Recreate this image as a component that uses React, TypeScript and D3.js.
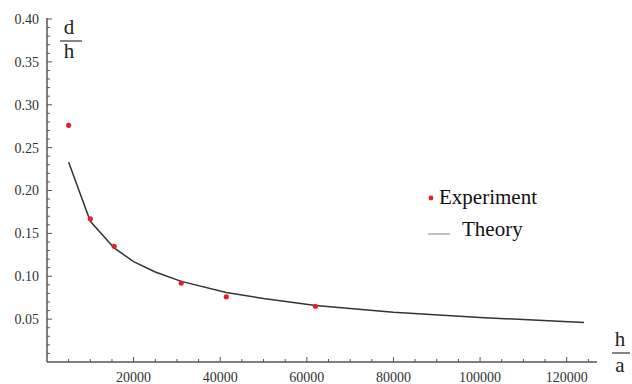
import React from 'react';
import * as d3 from 'd3';

// experiment points (h/a, d/h)
const expX = [5000, 10000, 15500, 31000, 41400, 62000];
const expY = [0.276, 0.167, 0.135, 0.092, 0.076, 0.065];

// theory curve samples
const thX = [5000, 10000, 15500, 20000, 25000, 31000, 41400, 50000, 62000, 80000, 100000, 124000];
const thY = [0.233, 0.164, 0.133, 0.117, 0.105, 0.094, 0.081, 0.074, 0.066, 0.058, 0.052, 0.046];

const xTickLabels = [20000, 40000, 60000, 80000, 100000, 120000];
const yTickLabels = [0.05, 0.1, 0.15, 0.2, 0.25, 0.3, 0.35, 0.4];

const W = 632;
const H = 384;
const font = '"Liberation Serif", "DejaVu Serif", serif';
const axisColor = '#555';

const App = () => {
  const x = d3.scaleLinear().domain([0, 127000]).range([47, 597]);
  const y = d3.scaleLinear().domain([0, 0.4]).range([362, 19]);

  const xMinor = d3.range(5000, 127000, 5000);
  const yMinor = d3.range(1, 41).map(i => i / 100);

  const line = d3.line<number>()
    .x((_, i) => x(thX[i]))
    .y(d => y(d));

  return (
    <svg width={W} height={H} style={{ position: 'absolute', left: 0, top: 0, background: '#fff' }}>
      {/* theory curve */}
      <path d={line(thY) || ''} fill="none" stroke="#333" strokeWidth={1.5} />

      {/* experiment points */}
      {expX.map((v, i) => (
        <circle key={i} cx={x(v)} cy={y(expY[i])} r={2.6} fill="#e3202b" />
      ))}

      {/* axes */}
      <line x1={x(0)} x2={x(0)} y1={y(0)} y2={y(0.4) - 1} stroke={axisColor} strokeWidth={1.5} />
      <line x1={x(0)} x2={x(127000)} y1={y(0)} y2={y(0)} stroke={axisColor} strokeWidth={1.5} />

      {yMinor.map(v => {
        const major = Math.round(v * 100) % 5 === 0;
        return (
          <line key={'ym' + v} x1={x(0)} x2={x(0) + (major ? 5 : 3)} y1={y(v)} y2={y(v)}
            stroke={axisColor} strokeWidth={1} />
        );
      })}
      {xMinor.map(v => {
        const major = v % 20000 === 0;
        return (
          <line key={'xm' + v} x1={x(v)} x2={x(v)} y1={y(0)} y2={y(0) - (major ? 5 : 3)}
            stroke={axisColor} strokeWidth={1} />
        );
      })}

      {yTickLabels.map(v => (
        <text key={'yl' + v} x={39} y={y(v)} dy="0.35em" textAnchor="end"
          fontFamily={font} fontSize={14} fill="#333">{v.toFixed(2)}</text>
      ))}
      {xTickLabels.map(v => (
        <text key={'xl' + v} x={x(v)} y={382} textAnchor="middle"
          fontFamily={font} fontSize={14} fill="#333">{v}</text>
      ))}

      {/* axis labels */}
      <text x={69} y={34} textAnchor="middle" fontFamily={font} fontSize={21} fill="#222">d</text>
      <line x1={60} x2={82} y1={41} y2={41} stroke="#333" strokeWidth={1.2} />
      <text x={69} y={58} textAnchor="middle" fontFamily={font} fontSize={21} fill="#222">h</text>

      <text x={620} y={346} textAnchor="middle" fontFamily={font} fontSize={21} fill="#222">h</text>
      <line x1={612} x2={630} y1={353} y2={353} stroke="#333" strokeWidth={1.2} />
      <text x={620} y={372} textAnchor="middle" fontFamily={font} fontSize={21} fill="#222">a</text>

      {/* legend */}
      <circle cx={431} cy={198} r={2.4} fill="#e3202b" />
      <text x={439} y={204} fontFamily={font} fontSize={21} fill="#111">Experiment</text>
      <line x1={428} x2={450} y1={234} y2={234} stroke="#999" strokeWidth={1.2} />
      <text x={462} y={236} fontFamily={font} fontSize={21} fill="#111">Theory</text>
    </svg>
  );
};

export default App;
